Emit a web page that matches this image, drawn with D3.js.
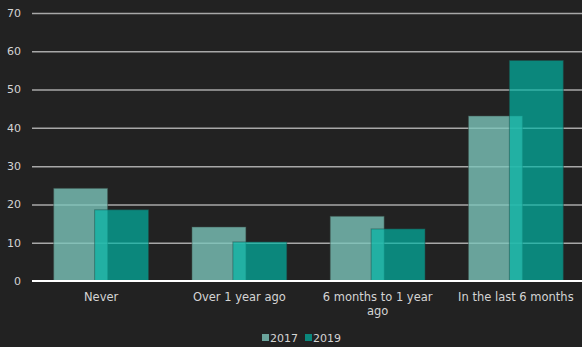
<!DOCTYPE html>
<html lang="en">
<head>
  <meta charset="UTF-8">
  <title>Recency bar chart</title>
  <style>
      body { margin: 0; background: #222222; }
      text { font-family: "DejaVu Sans", sans-serif; fill: #d4d4d4; }
      .grid line { stroke: #a8a8a8; stroke-width: 1.5px; }
      .grid path { stroke-width: 0; }
  </style>
</head>
<body>
<div id="chart"></div>
<script src="https://d3js.org/d3.v7.min.js"></script>
<script>
  const categories = ["Never", "Over 1 year ago", "6 months to 1 year ago", "In the last 6 months"];
  const values2017 = [24.2, 14.1, 16.9, 43.1];
  const values2019 = [18.6, 10.2, 13.6, 57.6];
  const yTicks = [0, 10, 20, 30, 40, 50, 60, 70];
  const seriesNames = ["2017", "2019"];

  const W = 582, H = 347;
  const margin = {top: 13, right: -3, bottom: 66, left: 32},
    width = W - margin.left - margin.right,
    height = H - margin.top - margin.bottom;

  const svg = d3.select("#chart").append("svg")
    .attr("width", W)
    .attr("height", H)
    .style("background", "#222222");

  const g = svg.append("g")
    .attr("transform", `translate(${margin.left},${margin.top})`);

  const x = d3.scaleBand()
    .domain(categories)
    .range([0, width]);

  const y = d3.scaleLinear()
    .domain([0, 70])
    .range([height, 0]);

  const barW = x.bandwidth() * 0.39;
  const shift = x.bandwidth() * 0.296;
  const groupStart = (x.bandwidth() - barW - shift) / 2;

  // gridlines
  g.append("g")
    .attr("class", "grid")
    .call(d3.axisLeft(y).tickValues(yTicks.slice(1)).tickSize(-width).tickFormat(""));

  // 2017 bars
  g.selectAll(".b17")
    .data(values2017)
    .enter().append("rect")
    .attr("class", "b17")
    .attr("x", (d, i) => x(categories[i]) + groupStart)
    .attr("y", d => y(d))
    .attr("width", barW)
    .attr("height", d => y(0) - y(d))
    .attr("fill", "rgb(124,196,186)")
    .attr("fill-opacity", 0.8)
    .attr("stroke", "#3c4f4c")
    .attr("stroke-opacity", 0.5)
    .attr("stroke-width", 1);

  // 2019 bars
  g.selectAll(".b19")
    .data(values2019)
    .enter().append("rect")
    .attr("class", "b19")
    .attr("x", (d, i) => x(categories[i]) + groupStart + shift)
    .attr("y", d => y(d))
    .attr("width", barW)
    .attr("height", d => y(0) - y(d))
    .attr("fill", "rgb(0,183,166)")
    .attr("fill-opacity", 0.68)
    .attr("stroke", "#1f4a45")
    .attr("stroke-opacity", 0.5)
    .attr("stroke-width", 1);

  // zero line
  g.append("line")
    .attr("x1", 0).attr("x2", width)
    .attr("y1", y(0)).attr("y2", y(0))
    .attr("stroke", "#ffffff")
    .attr("stroke-width", 2);

  // y tick labels
  g.selectAll(".ylab")
    .data(yTicks)
    .enter().append("text")
    .attr("class", "ylab")
    .attr("x", -11)
    .attr("y", d => y(d))
    .attr("dy", "0.35em")
    .attr("text-anchor", "end")
    .style("font-size", "11px")
    .text(d => d);

  // x labels (wrap long ones)
  const xLines = [["Never"], ["Over 1 year ago"], ["6 months to 1 year", "ago"], ["In the last 6 months"]];
  categories.forEach((c, i) => {
    const t = g.append("text")
      .attr("x", x(c) + x.bandwidth() / 2)
      .attr("y", height + 20)
      .attr("text-anchor", "middle")
      .style("font-size", "11.5px");
    xLines[i].forEach((ln, j) => {
      t.append("tspan")
        .attr("x", x(c) + x.bandwidth() / 2)
        .attr("dy", j === 0 ? 0 : 14)
        .text(ln);
    });
  });

  // legend
  const legendColors = ["rgb(106,163,155)", "rgb(11,135,124)"];
  const legendX = [262, 305];
  const legend = svg.selectAll(".leg")
    .data(seriesNames)
    .enter().append("g")
    .attr("class", "leg")
    .attr("transform", (d, i) => `translate(${legendX[i]},334)`);
  legend.append("rect")
    .attr("width", 7).attr("height", 7)
    .attr("fill", (d, i) => legendColors[i]);
  legend.append("text")
    .attr("x", 8).attr("y", 7.5)
    .style("font-size", "11px")
    .text(d => d);
</script>
</body>
</html>
